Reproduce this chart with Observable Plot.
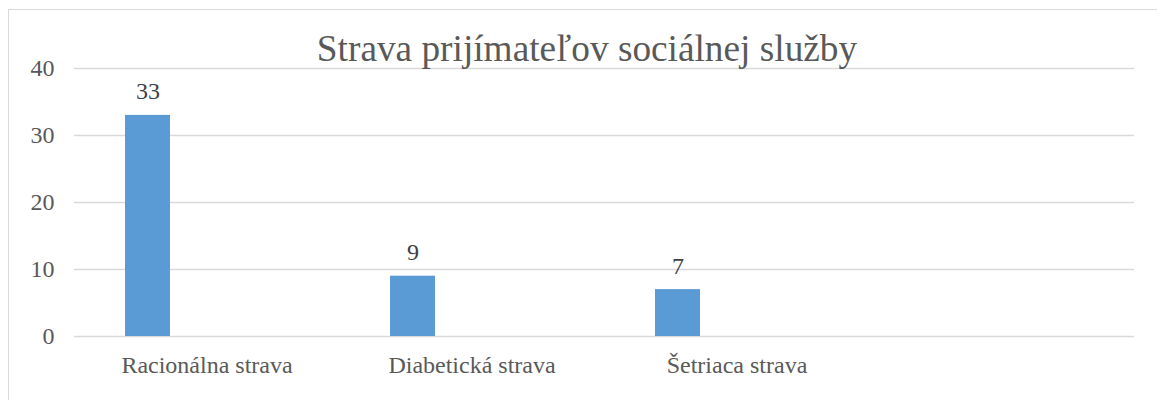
<!DOCTYPE html>
<html>
<head>
<meta charset="utf-8">
<script src="https://cdn.jsdelivr.net/npm/d3@7"></script>
<script src="https://cdn.jsdelivr.net/npm/@observablehq/plot@0.6"></script>
<style>
  html, body { margin: 0; padding: 0; background: #fff; overflow: hidden; }
  #wrap { position: relative; width: 1157px; height: 400px; }
  #frame { position: absolute; left: 8px; top: 9px; width: 1160px; height: 400px; border: 1px solid #d9d9d9; box-sizing: border-box; }
  #title { position: absolute; left: 8px; width: 1158px; top: 30px; text-align: center;
           font-family: "Liberation Serif", "Times New Roman", serif; font-size: 37.3px; line-height: 37px; color: #595959; z-index: 2; }
  #chart { position: absolute; left: 0; top: 0; }
  #chart svg, #chart svg g, #chart svg text { font-variant: normal !important; font-variant-numeric: normal !important; font-family: "Liberation Serif", "Times New Roman", serif !important; }
</style>
</head>
<body>
<div id="wrap">
  <div id="frame"></div>
  <div id="chart"></div>
  <div id="title">Strava prijímateľov sociálnej služby</div>
</div>
<script>
const categories = ["Racionálna strava", "Diabetická strava", "Šetriaca strava", ""];
const values = [33, 9, 7];
const series = ["Rad 1"];
const yTicks = [0, 10, 20, 30, 40];

const FONT = "'Liberation Serif', 'Times New Roman', serif";
const data = values.map((v, i) => ({category: categories[i], series: series[0], value: v}));
const grid = categories.flatMap(c => yTicks.map(t => ({category: c, tick: t})));

const chart = Plot.plot({
  width: 1157,
  height: 400,
  marginLeft: 73,
  marginRight: 22,
  marginTop: 68,
  marginBottom: 64,
  style: {fontFamily: FONT, fontSize: "24px", color: "#595959", background: "transparent"},
  fx: {domain: categories, padding: 0, label: null, axis: null},
  x: {domain: series, paddingInner: 0, paddingOuter: 2.386, align: 0.232, axis: null},
  y: {domain: [0, 40], label: null, axis: null},
  marks: [
    Plot.ruleY(grid, {fx: "category", y: "tick", stroke: "#d9d9d9", strokeWidth: 1.5}),
    Plot.axisY(yTicks, {tickSize: 0, tickPadding: 20, label: null, fontFamily: FONT, fontSize: 24, fill: "#595959"}),
    Plot.axisFx({anchor: "bottom", tickSize: 0, tickPadding: 19, label: null, fontFamily: FONT, fontSize: 24, fill: "#595959"}),
    Plot.barY(data, {fx: "category", x: "series", y: "value", fill: "#5b9bd5"}),
    Plot.text(data, {fx: "category", x: "series", y: "value", text: d => String(d.value), lineAnchor: "bottom", dy: -16, fill: "#404040", fontSize: 24, fontFamily: FONT})
  ]
});
document.getElementById("chart").appendChild(chart);
</script>
</body>
</html>
